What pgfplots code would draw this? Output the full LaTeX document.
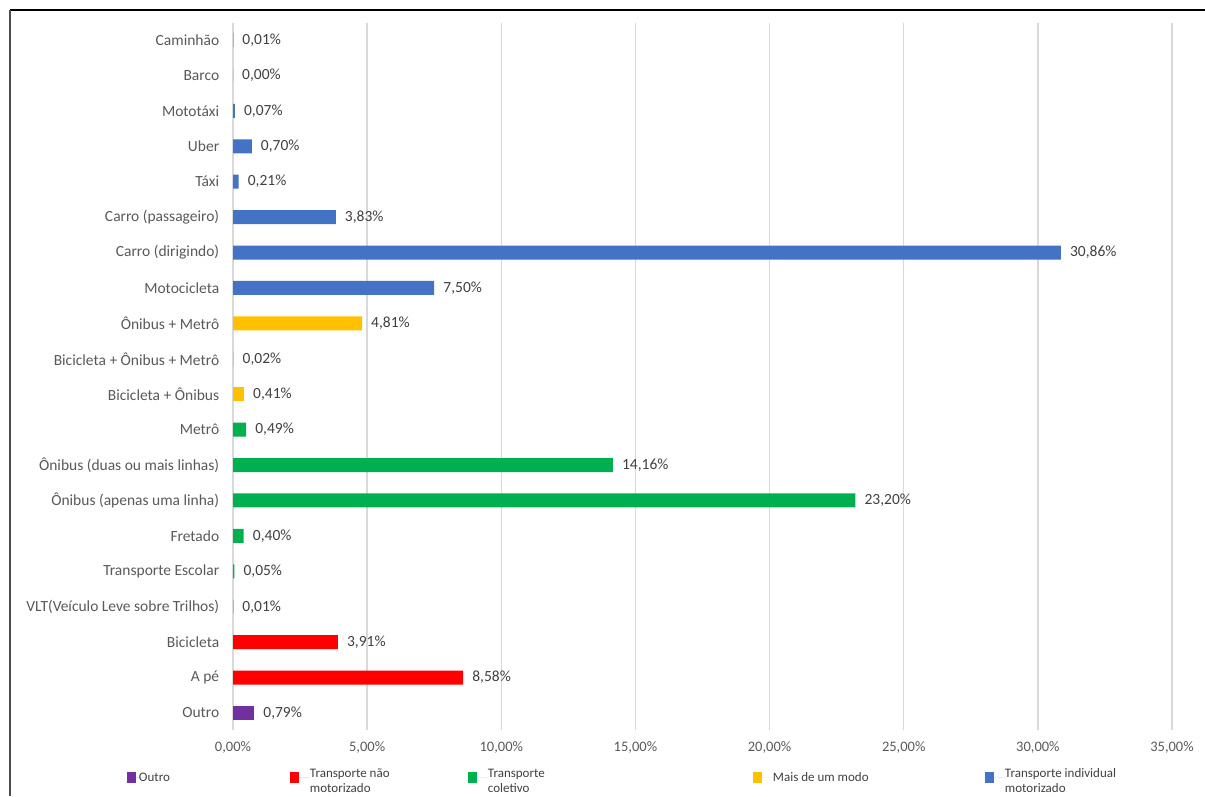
\documentclass[border=0pt]{standalone}
\usepackage{fontspec}
\setmainfont{Carlito}
\usepackage{pgfplots}
\pgfplotsset{compat=1.18}
\definecolor{cblue}{HTML}{4472C4}
\definecolor{cyellow}{HTML}{FFC000}
\definecolor{cgreen}{HTML}{00B050}
\definecolor{cred}{HTML}{FF0000}
\definecolor{cpurple}{HTML}{7030A0}
\definecolor{gridgray}{HTML}{D9D9D9}
\definecolor{labgray}{HTML}{595959}
\definecolor{txtgray}{HTML}{404040}
\pgfplotsset{
  myleg/.style={legend image code/.code={%
      \fill[##1,draw=none] (0pt,-6pt) rectangle (9pt,5pt);
      \path (0pt,0pt) -- (20pt,0pt);}},
}
\begin{document}
\begin{tikzpicture}[x=1pt,y=1pt]
\path[use as bounding box] (0,0) rectangle (1205,796);
\draw[black, line width=1.5pt] (10,786) -- (1205,786);
\draw[black!70, line width=1.5pt] (10,786) -- (10,0);
\begin{axis}[
  at={(233pt,66pt)}, anchor=south west,
  scale only axis, width=939pt, height=707pt,
  xmin=0, xmax=35, ymin=-0.48, ymax=19.48,
  xbar, bar width=14pt, bar shift=0pt,
  axis line style={draw=none},
  tick style={draw=none},
  xmajorgrids, major grid style={line width=1.3pt, color=gridgray},
  xtick={0,5,...,35},
  xticklabels={{0,00\%},{5,00\%},{10,00\%},{15,00\%},{20,00\%},{25,00\%},{30,00\%},{35,00\%}},
  xticklabel style={font=\fontsize{14.5}{16}\selectfont, text=labgray, yshift=-8pt},
  ytick={0,...,19},
  yticklabels={Outro,A pé,Bicicleta,VLT(Veículo Leve sobre Trilhos),Transporte Escolar,Fretado,Ônibus (apenas uma linha),Ônibus (duas ou mais linhas),Metrô,Bicicleta + Ônibus,Bicicleta + Ônibus + Metrô,Ônibus + Metrô,Motocicleta,Carro (dirigindo),Carro (passageiro),Táxi,Uber,Mototáxi,Barco,Caminhão},
  yticklabel style={font=\fontsize{15.5}{18}\selectfont, text=labgray, xshift=-6pt},
  point meta=x,
  nodes near coords={\pgfmathprintnumber[fixed,fixed zerofill,precision=2,use comma,assume math mode=true]{\pgfplotspointmeta}\%},
  every node near coord/.append style={anchor=west, inner sep=0pt, xshift=9pt, font=\fontsize{15.5}{18}\selectfont, text=txtgray},
  legend columns=5,
  legend style={at={(-0.1129,-0.0665)}, anchor=west, draw=none, fill=none,
    inner sep=0pt, outer sep=0pt,
    nodes={inner sep=0pt, outer sep=0pt, font=\fontsize{13}{15}\selectfont, text=txtgray},
    /tikz/every even column/.style={column sep=0pt}},
  legend cell align=left,
]
\addplot[fill=cpurple, draw=none, myleg] coordinates {(0.79,0)};
\addlegendentry{\parbox[c]{143pt}{\raggedright\hspace*{-8pt}Outro}}
\addplot[fill=cred, draw=none, myleg] coordinates {(8.58,1) (3.91,2)};
\addlegendentry{\parbox[c]{158pt}{\raggedright Transporte não\\motorizado}}
\addplot[fill=cgreen, draw=none, myleg] coordinates {(0.01,3) (0.05,4) (0.40,5) (23.20,6) (14.16,7) (0.49,8)};
\addlegendentry{\parbox[c]{265pt}{\raggedright Transporte\\coletivo}}
\addplot[fill=cyellow, draw=none, myleg] coordinates {(0.41,9) (0.02,10) (4.81,11)};
\addlegendentry{\parbox[c]{212pt}{\raggedright Mais de um modo}}
\addplot[fill=cblue, draw=none, myleg] coordinates {(7.50,12) (30.86,13) (3.83,14) (0.21,15) (0.70,16) (0.07,17) (0.00,18) (0.01,19)};
\addlegendentry{\parbox[c]{160pt}{\raggedright Transporte individual\\motorizado}}
\end{axis}
\end{tikzpicture}
\end{document}
